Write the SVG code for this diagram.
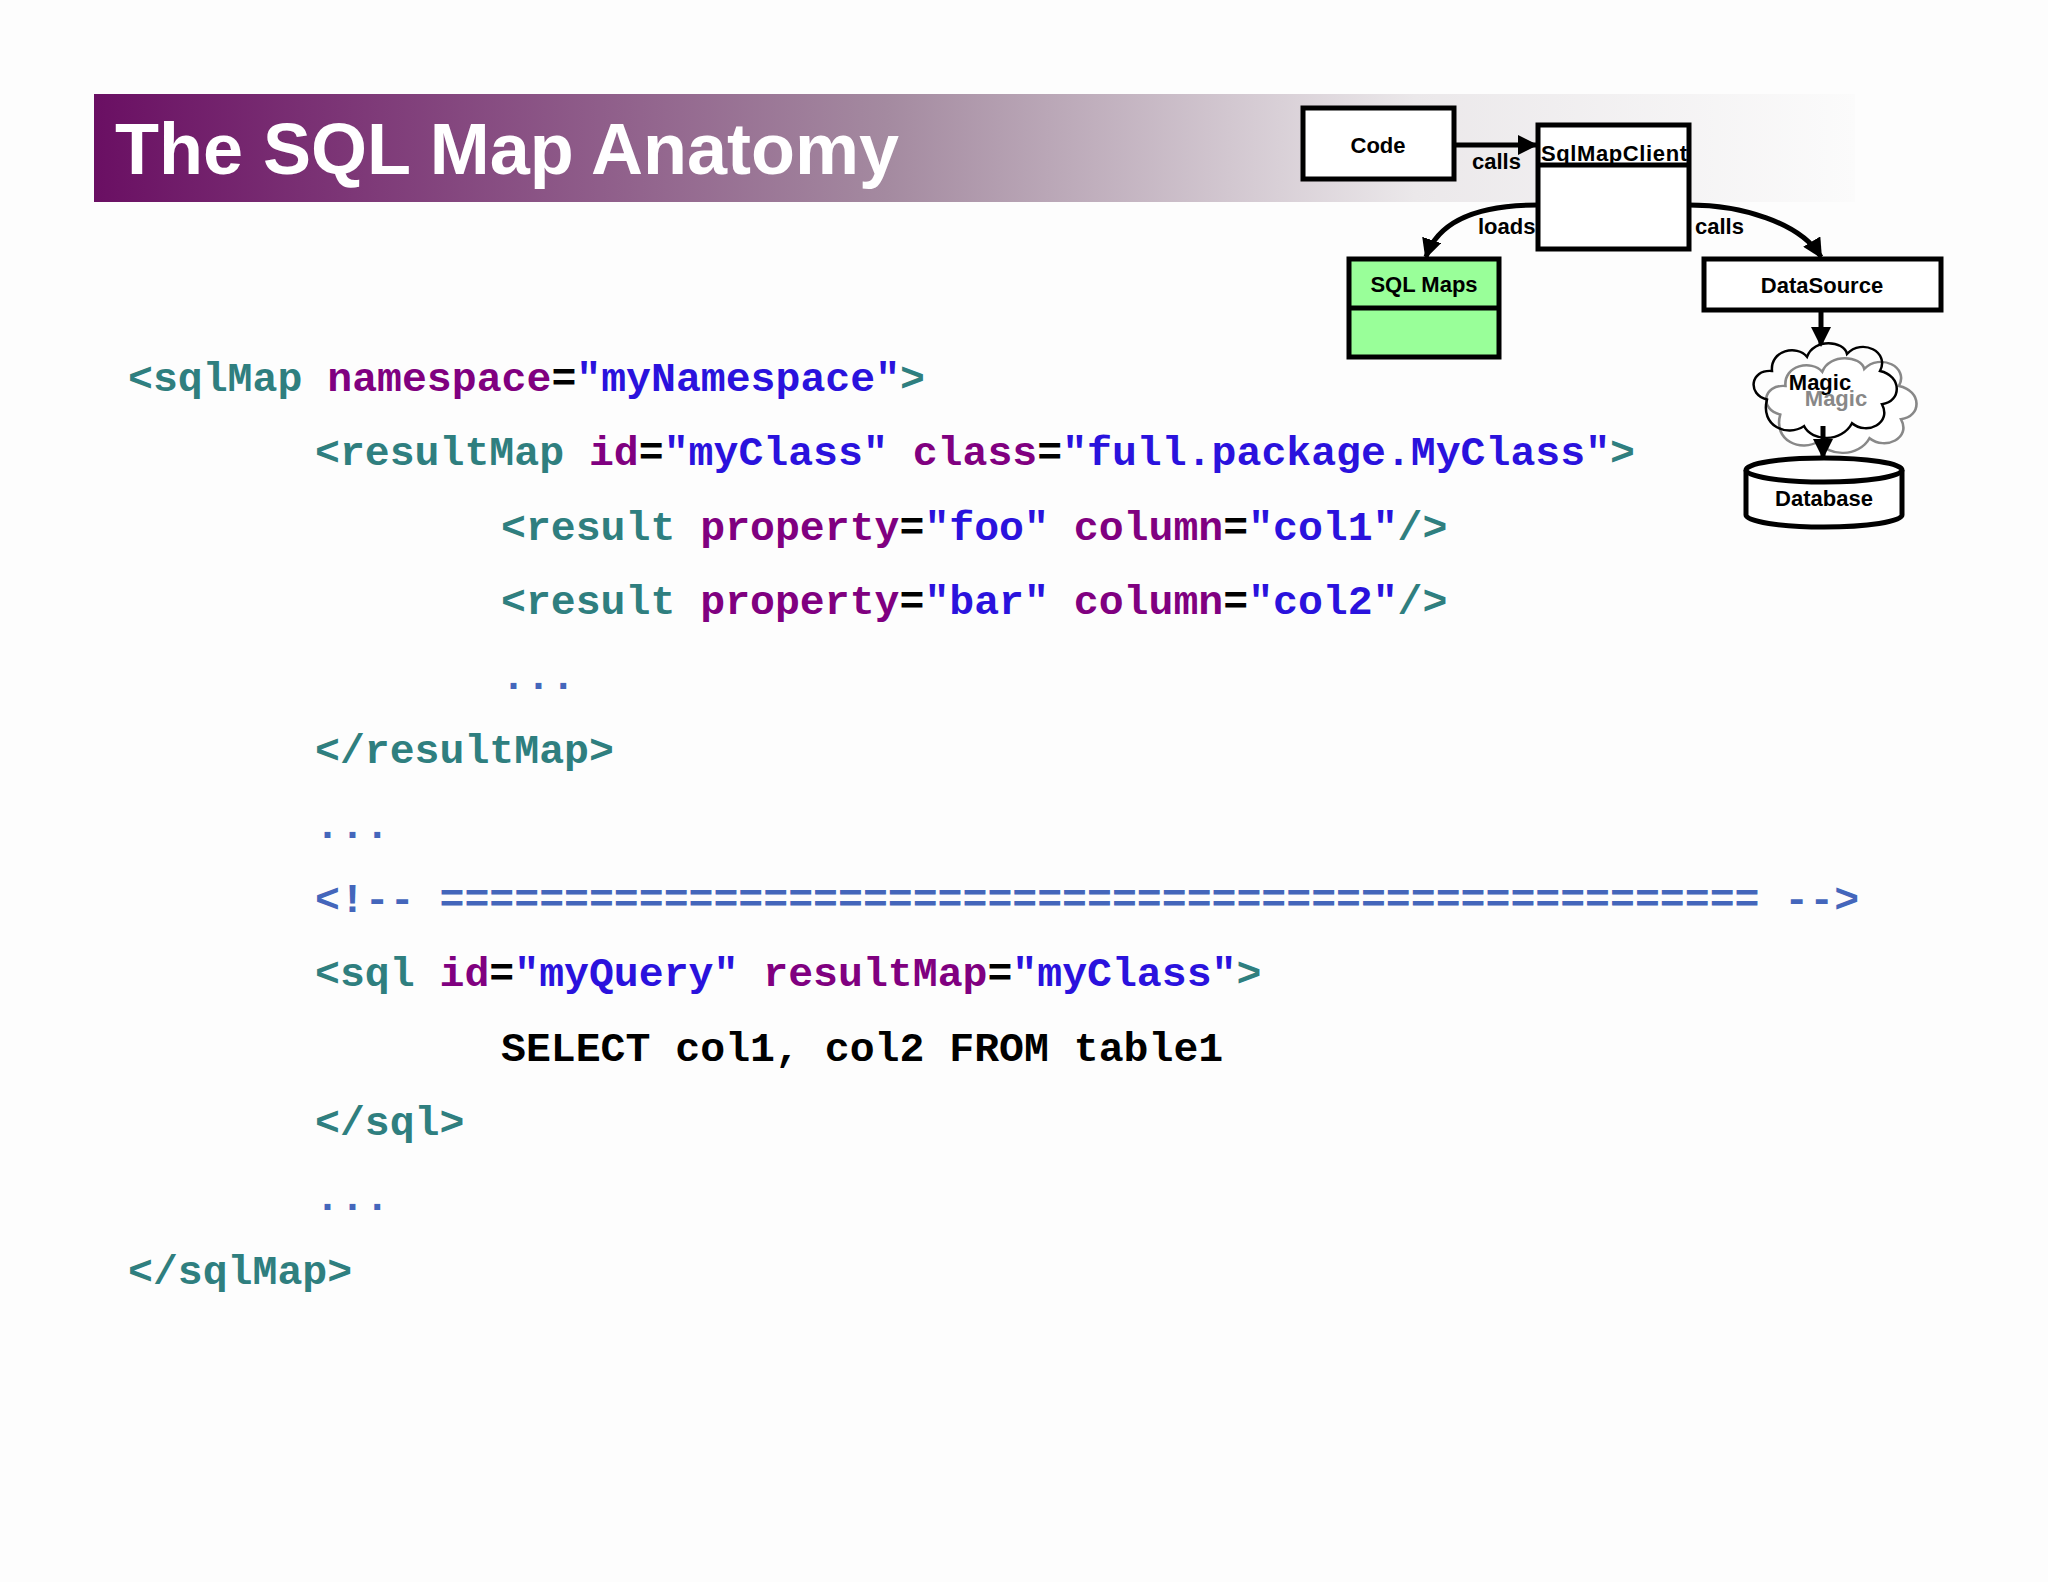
<svg xmlns="http://www.w3.org/2000/svg" width="2048" height="1582" viewBox="0 0 2048 1582">
<defs>
<linearGradient id="ban" x1="0" y1="0" x2="1" y2="0">
<stop offset="0" stop-color="#6a0f63"/><stop offset="0.45" stop-color="#a48aa0"/><stop offset="0.75" stop-color="#ebe8ea"/><stop offset="1" stop-color="#fbfbfb"/>
</linearGradient>
<marker id="ah" viewBox="0 0 10 10" refX="9" refY="5" markerWidth="4" markerHeight="4" orient="auto"><path d="M0,0L10,5L0,10z" fill="#000"/></marker>
<path id="cloud" d="M-55,10 C-75,5 -72,-22 -50,-20 C-52,-42 -25,-48 -15,-35 C-8,-55 22,-52 25,-38 C40,-55 68,-40 58,-20 C80,-15 80,12 60,15 C70,35 45,48 30,35 C20,55 -10,55 -18,38 C-35,50 -62,38 -55,10 Z"/>
<style>
.box{fill:#fff;stroke:#000;stroke-width:5}
.lbl{font-family:"Liberation Sans",Arial,sans-serif;font-weight:bold;font-size:22px;fill:#000}
.code{font-family:"Liberation Mono","Courier New",monospace;font-weight:bold;font-size:41.5px}
.t{fill:#2f7f7f}.a{fill:#800080}.v{fill:#2a12dd}.c{fill:#4466bb}.k{fill:#000}
.ln{fill:none;stroke:#000;stroke-width:5}
</style>
</defs>
<rect width="2048" height="1582" fill="#fdfdfd"/>
<rect x="94" y="94" width="1761" height="108" fill="url(#ban)"/>
<text x="115" y="174" font-family="Liberation Sans,Arial,sans-serif" font-weight="bold" font-size="72" fill="#fff">The SQL Map Anatomy</text>

<g id="magic">
<use href="#cloud" transform="translate(1838,405) scale(1.05,0.95)" fill="#fff" stroke="#888" stroke-width="2.5"/>
<use href="#cloud" transform="translate(1822,390) scale(1.0,0.95)" fill="none" stroke="#000" stroke-width="2.5"/>
<text class="lbl" x="1820" y="390" text-anchor="middle">Magic</text>
<text class="lbl" x="1836" y="406" text-anchor="middle" style="fill:#888">Magic</text>
</g>
<g id="connectors">
<line class="ln" x1="1454" y1="145" x2="1536" y2="145" marker-end="url(#ah)"/>
<path class="ln" d="M1538,205 C1490,205 1440,215 1426,257" marker-end="url(#ah)"/>
<path class="ln" d="M1689,205 C1740,205 1800,222 1821,257" marker-end="url(#ah)"/>
<line class="ln" x1="1821" y1="310" x2="1821" y2="345" marker-end="url(#ah)"/>
<line class="ln" x1="1823" y1="426" x2="1823" y2="457" marker-end="url(#ah)"/>
<text class="lbl" x="1472" y="169">calls</text>
<text class="lbl" x="1478" y="234">loads</text>
<text class="lbl" x="1695" y="234">calls</text>
</g>
<g id="code"><rect class="box" x="1303" y="108" width="151" height="71"/><text class="lbl" x="1378" y="153" text-anchor="middle">Code</text></g>
<g id="sqlmapclient"><rect class="box" x="1538" y="125" width="151" height="124"/><line class="ln" x1="1538" y1="165" x2="1689" y2="165"/><text class="lbl" x="1614" y="161" text-anchor="middle" font-weight="normal" textLength="146">SqlMapClient</text></g>
<g id="sqlmaps"><rect class="box" x="1349" y="259" width="150" height="98" style="fill:#99ff99"/><line class="ln" x1="1349" y1="308" x2="1499" y2="308"/><text class="lbl" x="1424" y="292" text-anchor="middle">SQL Maps</text></g>
<g id="datasource"><rect class="box" x="1704" y="259" width="237" height="51"/><text class="lbl" x="1822" y="293" text-anchor="middle">DataSource</text></g>
<g id="database">
<path d="M1746,470 L1746,515 A78,12 0 0 0 1902,515 L1902,470" fill="#fff" stroke="#000" stroke-width="5"/>
<ellipse cx="1824" cy="470" rx="78" ry="12" fill="#fff" stroke="#000" stroke-width="5"/>
<text class="lbl" x="1824" y="506" text-anchor="middle">Database</text>
</g>

<g id="xml" class="code" transform="translate(0,3)">
<text x="128" y="388"><tspan class="t">&lt;sqlMap </tspan><tspan class="a">namespace</tspan><tspan class="k">=</tspan><tspan class="v">"myNamespace"</tspan><tspan class="t">&gt;</tspan></text>
<text x="315" y="462"><tspan class="t">&lt;resultMap </tspan><tspan class="a">id</tspan><tspan class="k">=</tspan><tspan class="v">"myClass" </tspan><tspan class="a">class</tspan><tspan class="k">=</tspan><tspan class="v">"full.package.MyClass"</tspan><tspan class="t">&gt;</tspan></text>
<text x="501" y="537"><tspan class="t">&lt;result </tspan><tspan class="a">property</tspan><tspan class="k">=</tspan><tspan class="v">"foo" </tspan><tspan class="a">column</tspan><tspan class="k">=</tspan><tspan class="v">"col1"</tspan><tspan class="t">/&gt;</tspan></text>
<text x="501" y="611"><tspan class="t">&lt;result </tspan><tspan class="a">property</tspan><tspan class="k">=</tspan><tspan class="v">"bar" </tspan><tspan class="a">column</tspan><tspan class="k">=</tspan><tspan class="v">"col2"</tspan><tspan class="t">/&gt;</tspan></text>
<text x="501" y="686" class="c">...</text>
<text x="315" y="760" class="t">&lt;/resultMap&gt;</text>
<text x="315" y="835" class="c">...</text>
<text x="315" y="909" class="c">&lt;!-- ===================================================== --&gt;</text>
<text x="315" y="983"><tspan class="t">&lt;sql </tspan><tspan class="a">id</tspan><tspan class="k">=</tspan><tspan class="v">"myQuery" </tspan><tspan class="a">resultMap</tspan><tspan class="k">=</tspan><tspan class="v">"myClass"</tspan><tspan class="t">&gt;</tspan></text>
<text x="501" y="1058" class="k">SELECT col1, col2 FROM table1</text>
<text x="315" y="1132" class="t">&lt;/sql&gt;</text>
<text x="315" y="1207" class="c">...</text>
<text x="128" y="1281" class="t">&lt;/sqlMap&gt;</text>
</g>
</svg>
